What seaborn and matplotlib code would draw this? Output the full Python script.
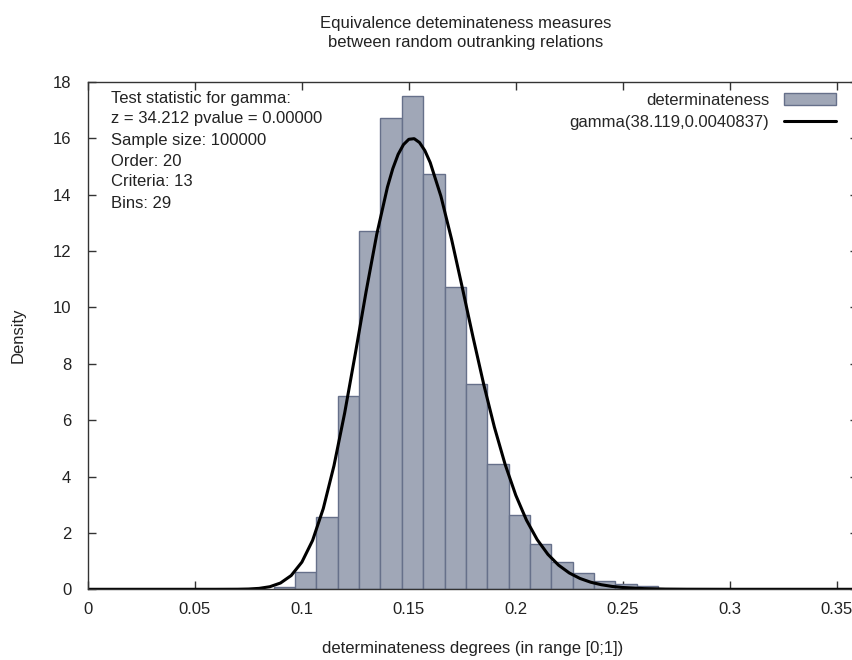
import matplotlib
matplotlib.use('Agg')
import numpy as np
import pandas as pd
import matplotlib.pyplot as plt
import seaborn as sns
from matplotlib.patches import Patch
from matplotlib.lines import Line2D
from matplotlib.ticker import FormatStrFormatter

sns.set_theme(style="ticks")
plt.rcParams['font.family'] = ['Liberation Sans', 'DejaVu Sans']

# ==========================================
# Data
# ==========================================
# histogram bins (edges) and their densities
bin_edges = [0.0868, 0.0968, 0.1068, 0.1168, 0.1267, 0.1367, 0.1467, 0.1567,
             0.1667, 0.1767, 0.1867, 0.1967, 0.2067, 0.2167, 0.2267, 0.2366,
             0.2466, 0.2566, 0.2666]
bin_density = [0.09, 0.60, 2.57, 6.87, 12.71, 16.74, 17.51, 14.73, 10.73,
               7.27, 4.44, 2.62, 1.61, 0.96, 0.57, 0.30, 0.19, 0.10]

# fitted gamma curve, sampled along x
gamma_x = [0.0, 0.05, 0.06, 0.07, 0.075, 0.08, 0.085, 0.09, 0.095, 0.10,
           0.105, 0.11, 0.115, 0.12, 0.125, 0.13, 0.135, 0.14, 0.1425, 0.145,
           0.1475, 0.15, 0.1525, 0.155, 0.1575, 0.16, 0.165, 0.17, 0.175,
           0.18, 0.185, 0.19, 0.195, 0.20, 0.205, 0.21, 0.215, 0.22, 0.225,
           0.23, 0.235, 0.24, 0.245, 0.25, 0.26, 0.27, 0.28, 0.30, 0.36]
gamma_density = [0.0, 0.0, 0.0001, 0.0027, 0.0101, 0.0327, 0.0911, 0.2235,
                 0.489, 0.965, 1.734, 2.865, 4.385, 6.256, 8.368, 10.554,
                 12.594, 14.272, 14.926, 15.434, 15.780, 15.967, 15.989,
                 15.852, 15.565, 15.141, 13.947, 12.415, 10.703, 8.952, 7.275,
                 5.754, 4.436, 3.338, 2.453, 1.764, 1.242, 0.857, 0.580, 0.385,
                 0.252, 0.162, 0.102, 0.064, 0.024, 0.008, 0.003, 0.0003, 0.0]

x_ticks = [0, 0.05, 0.1, 0.15, 0.2, 0.25, 0.3, 0.35]
y_ticks = [0, 2, 4, 6, 8, 10, 12, 14, 16, 18]

title = "Equivalence deteminateness measures\nbetween random outranking relations"
info_lines = ["Test statistic for gamma:",
              "z = 34.212 pvalue = 0.00000",
              "Sample size: 100000",
              "Order: 20",
              "Criteria: 13",
              "Bins: 29"]
hist_label = "determinateness"
gamma_label = "gamma(38.119,0.0040837)"

bar_color = '#a0a7b7'
bar_edge = '#66708a'
frame_color = '#333333'
text_color = '#222222'
fs = 12

# ==========================================
# Plot
# ==========================================
fig = plt.figure(figsize=(8.52, 6.6), dpi=100)
W, H = 852, 660
# axes right edge runs past the canvas (cropped like the reference)
ax = fig.add_axes([88 / W, (H - 589.3) / H, 770 / W, (589.3 - 82) / H])

centers = [(a + b) / 2 for a, b in zip(bin_edges[:-1], bin_edges[1:])]
hist_df = pd.DataFrame({"x": centers, "density": bin_density})
sns.histplot(data=hist_df, x="x", weights="density", bins=bin_edges,
             stat="count", color=bar_color, edgecolor=bar_edge,
             linewidth=1.0, alpha=1.0, ax=ax)

curve_df = pd.DataFrame({"x": gamma_x, "density": gamma_density})
sns.lineplot(data=curve_df, x="x", y="density", color='black',
             linewidth=2.2, ax=ax)

ax.set_xlim(0, 0.36)
ax.set_ylim(0, 18)
ax.set_xticks(x_ticks)
ax.set_yticks(y_ticks)
ax.xaxis.set_major_formatter(FormatStrFormatter('%g'))
ax.tick_params(direction='in', length=6, width=1, color=frame_color,
               labelsize=fs, top=True, right=True, labelcolor=text_color)
ax.tick_params(axis='x', pad=9)
ax.tick_params(axis='y', pad=12)
for sp in ax.spines.values():
    sp.set_color(frame_color)
    sp.set_linewidth(1.0)
ax.grid(False)

ax.set_xlabel("determinateness degrees (in range [0;1])", fontsize=fs,
              color=text_color)
ax.set_ylabel("Density", fontsize=fs, color=text_color)
ax.yaxis.set_label_coords(-(88 - 26) / 770, 0.5)
ax.xaxis.set_label_coords(0.5, -(641 - 589.3) / 507.3)

fig.text(466 / W, (H - 33) / H, title, ha='center', va='center',
         fontsize=fs, color=text_color, linespacing=1.4)

# info text block top-left
for i, line in enumerate(info_lines):
    fig.text(111 / W, (H - (98 + 21 * i)) / H, line, ha='left', va='center',
             fontsize=fs, color=text_color)

# legend
handles = [Patch(facecolor=bar_color, edgecolor=bar_edge, linewidth=1.0),
           Line2D([0], [0], color='black', linewidth=2.2)]
ax.legend(handles, [hist_label, gamma_label], loc='upper right',
          bbox_to_anchor=((836 - 88) / 770, (589.3 - 93) / 507.3),
          markerfirst=False, frameon=False, fontsize=fs, borderaxespad=0,
          borderpad=0, handlelength=3.1, handletextpad=0.9, labelspacing=0.42)

fig.savefig('out.png', dpi=100)
